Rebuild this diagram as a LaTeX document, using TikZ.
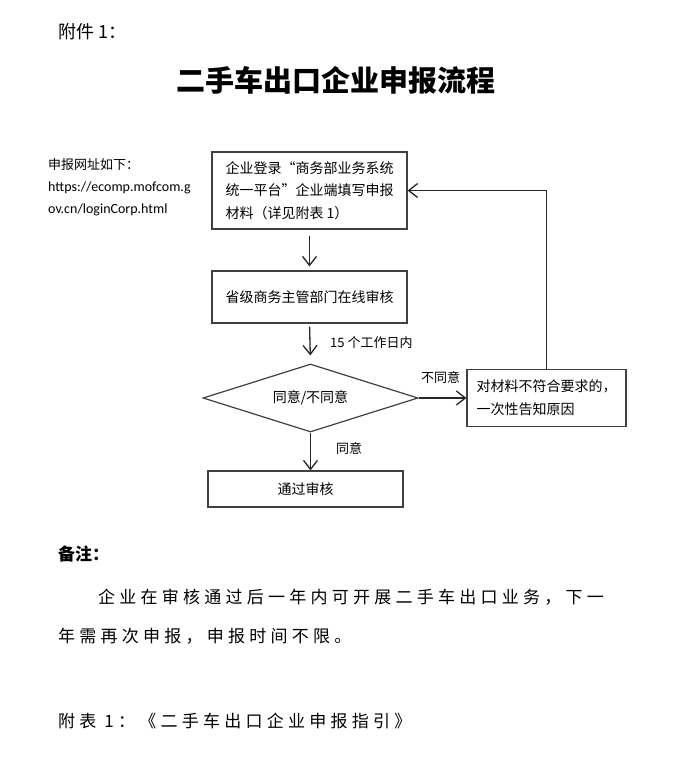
\documentclass[tikz,border=0pt]{standalone}
\usepackage{fontspec}
\setmainfont{Noto Sans CJK SC}
\newfontfamily\urlfont{Carlito}
\newfontfamily\spacedfont{Noto Sans CJK SC}[LetterSpace=25]
\usepackage{tikz}
\usetikzlibrary{positioning,arrows.meta,calc,shapes.geometric}
\tikzset{
  flowbox/.style={draw=black!75, line width=1.2pt, align=left, inner sep=0pt,
    font=\fontsize{14}{22.5}\selectfont, minimum width=195pt},
  flowdecide/.style={diamond, draw=black!75, line width=1.2pt, aspect=3.2, inner sep=0pt,
    minimum width=215pt, minimum height=68pt, font=\fontsize{14}{17}\selectfont},
  flowarrow/.style={-{Straight Barb[length=9pt,width=14pt]}, line width=1.3pt, black!85},
  flowlabel/.style={font=\fontsize{13}{16}\selectfont, anchor=west, inner sep=0pt},
  notetext/.style={font=\spacedfont\fontsize{17}{20}\selectfont, anchor=west, inner sep=0pt},
}

\begin{document}
\begin{tikzpicture}[x=1pt, y=-1pt]
  \useasboundingbox[fill=white] (0,0) rectangle (673,757);

  \node[anchor=west, inner sep=0pt, font=\fontsize{18}{20}\selectfont] (annex) at (58,32) {附件 1：};
  \node[inner sep=0pt, font=\bfseries\fontsize{29}{32}\selectfont] (title) at (335.5,80) {二手车出口企业申报流程};

  \node[anchor=north west, inner sep=0pt, align=left, font=\fontsize{13}{22}\selectfont] (site) at (48,158)
    {申报网址如下：\\ {\urlfont\fontsize{14}{22}\selectfont https://ecomp.mofcom.g}\\ {\urlfont\fontsize{14}{22}\selectfont ov.cn/loginCorp.html}};

  % flow
  \node[flowbox, minimum height=77pt] (apply) at (309.5,190.5)
    {企业登录“商务部业务系统\\统一平台”企业端填写申报\\材料（详见附表 1）};
  \node[flowbox, minimum height=52pt] (review) at (309.5,297) {省级商务主管部门在线审核};
  \node[flowdecide] (decide) at (310.5,398) {同意/不同意};
  \node[flowbox, minimum width=159pt, minimum height=57pt, font=\fontsize{14}{23}\selectfont] (reject) at (546.5,398)
    {对材料不符合要求的，\\一次性告知原因};
  \node[flowbox, minimum height=36pt, align=center] (pass) at (305.5,489) {通过审核};

  \draw[flowarrow, shorten <=6pt, shorten >=4pt] (apply.south) -- (review.north);
  \draw[flowarrow, shorten <=3pt, shorten >=8pt] (review.south) -- (decide.north);
  \draw[flowarrow] (decide.east) -- (reject.west);
  \draw[flowarrow] (reject.north) |- (apply.east);
  \draw[flowarrow] (decide.south) -- (decide.south |- pass.north);

  \node[flowlabel] (days) at (330,343) {15 个工作日内};
  \node[flowlabel] (nolabel) at (421,378) {不同意};
  \node[flowlabel] (yeslabel) at (336,449) {同意};

  % remarks
  \node[anchor=west, inner sep=0pt, font=\bfseries\fontsize{17}{20}\selectfont] (remark) at (58,554) {备注：};
  \node[notetext] (line1) at (98,597) {企业在审核通过后一年内可开展二手车出口业务，下一};
  \node[notetext] (line2) at (58,636) {年需再次申报，申报时间不限。};
  \node[notetext] (table) at (58,721) {附表 1：《二手车出口企业申报指引》};
\end{tikzpicture}
\end{document}
